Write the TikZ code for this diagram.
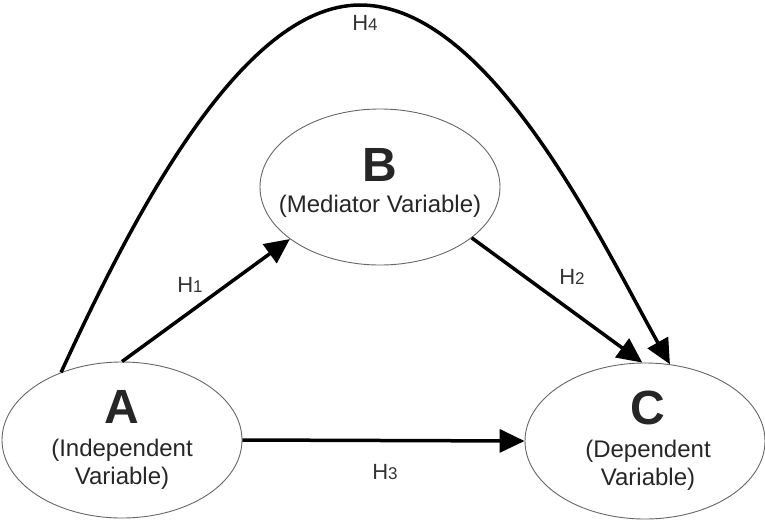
\documentclass[tikz,border=0pt]{standalone}
\usepackage{fontspec}
\setmainfont{Liberation Sans}
\usetikzlibrary{arrows.meta,shapes.geometric}
\begin{document}
\begin{tikzpicture}[x=1pt,y=-1pt,
  var/.style={ellipse, draw=black!60, line width=0.9pt,
    minimum width=240pt, minimum height=156pt, inner sep=0pt},
  vartext/.style={align=center, inner sep=0pt,
    font=\fontsize{24}{28}\selectfont, text=black!85},
  link/.style={line width=3.5pt, -{Triangle[length=25pt,width=23pt]}},
  hyp/.style={font=\fontsize{22}{24}\selectfont, text=black!80, inner sep=0pt}]
\useasboundingbox (0,0) rectangle (765,523);

% the three variables
\node[var] (A) at (122,440) {};
\node[var] (B) at (380,187) {};
\node[var] (C) at (645,441) {};
\node[vartext] (Atext) at (122,440) {{\fontsize{48}{48}\selectfont\bfseries A}\\[5pt](Independent\\Variable)};
\node[vartext] (Btext) at (380,183) {{\fontsize{48}{48}\selectfont\bfseries B}\\[3pt](Mediator Variable)};
\node[vartext] (Ctext) at (648,441) {{\fontsize{48}{48}\selectfont\bfseries C}\\[5pt](Dependent\\Variable)};

% hypothesised paths
\draw[link] (A.north) -- (B.210);
\draw[link] (B.331) -- (C.92);
\draw[link] (A.east) -- (C.west);
\draw[link] (A.132) .. controls (130,223) and (240,5) .. (360,5)
  .. controls (490,5) and (601,241) .. (C.72);

% path labels
\node[hyp] (h1) at (190,285) {H{\fontsize{17}{17}\selectfont 1}};
\node[hyp] (h2) at (572,277) {H{\fontsize{17}{17}\selectfont 2}};
\node[hyp] (h3) at (385,472) {H{\fontsize{17}{17}\selectfont 3}};
\node[hyp] (h4) at (365,23) {H{\fontsize{17}{17}\selectfont 4}};
\end{tikzpicture}
\end{document}
